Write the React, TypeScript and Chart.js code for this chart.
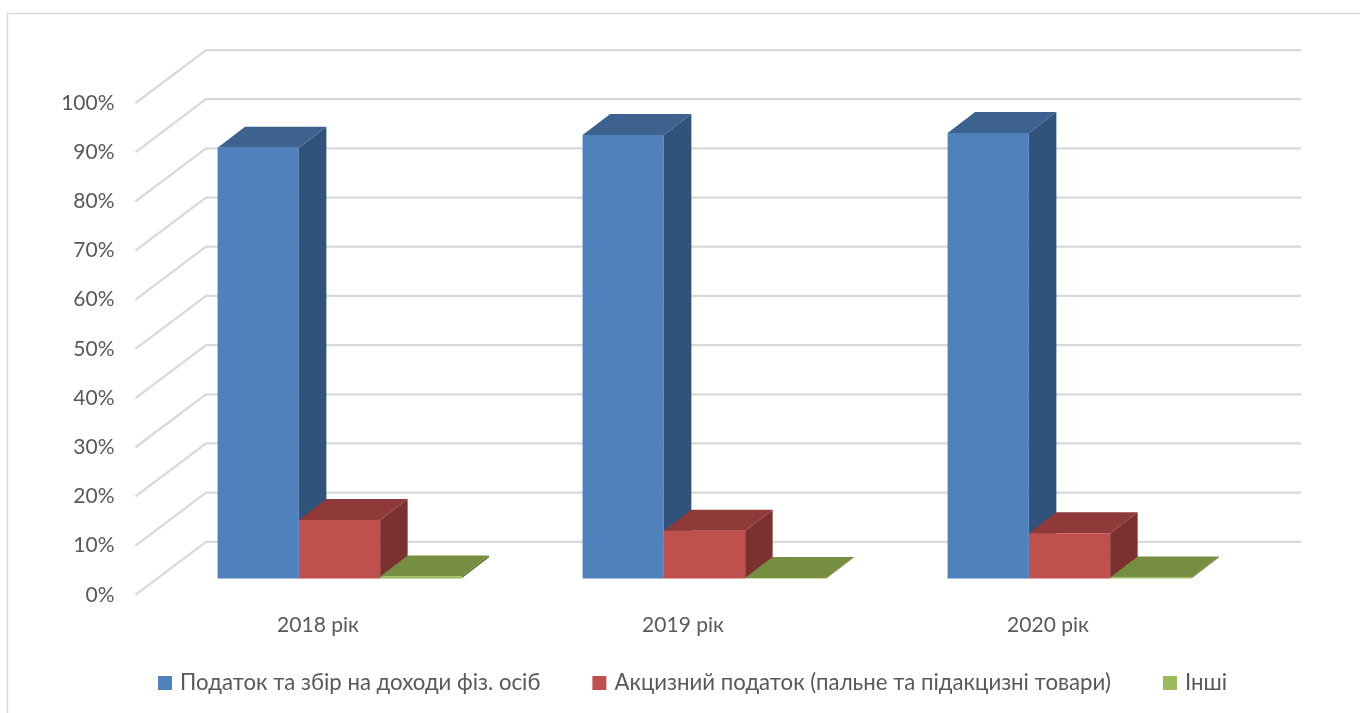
import React, { useEffect, useRef } from "react";
import { Chart, registerables } from "chart.js";

Chart.register(...registerables);

const categories = ["2018 рік", "2019 рік", "2020 рік"];
const incomeTax = [87.6, 90.2, 90.6];
const exciseTax = [11.9, 9.7, 9.2];
const otherTax = [0.4, 0.1, 0.2];
const seriesNames = [
  "Податок та збір на доходи фіз. осіб",
  "Акцизний податок (пальне та підакцизні товари)",
  "Інші",
];
const frontColors = ["#4f81bd", "#c0504d", "#9bbb59"];
const topColors = ["#3d628f", "#8f3a38", "#768e41"];
const sideColors = ["#31527a", "#7a312f", "#617534"];

const FONT = "Lato, Carlito, 'Noto Sans', sans-serif";
const TEXT = "#595959";
const GRID = "#d9d9d9";

// oblique depth of the chart's walls and bars
const WALL_DX = 70.5;
const WALL_DY = 53;
const BAR_SHIFT_X = 21.5;
const BAR_SHIFT_Y = 16.3;
const BAR_DX = 27.5;
const BAR_DY = 21;

const threeD = {
  id: "threeD",
  beforeDraw(chart: any) {
    const ctx = chart.ctx;
    ctx.save();
    ctx.fillStyle = "#ffffff";
    ctx.fillRect(0, 0, chart.width, chart.height);
    ctx.strokeStyle = GRID;
    ctx.lineWidth = 1.5;
    ctx.beginPath();
    ctx.moveTo(7.5, chart.height);
    ctx.lineTo(7.5, 13.5);
    ctx.lineTo(chart.width, 13.5);
    ctx.stroke();
    const y = chart.scales.y;
    const { left, right } = chart.chartArea;
    ctx.lineWidth = 2.25;
    y.ticks.forEach((t: any) => {
      const py = y.getPixelForValue(t.value);
      ctx.beginPath();
      ctx.moveTo(left, py);
      ctx.lineTo(left + WALL_DX, py - WALL_DY);
      ctx.lineTo(right + WALL_DX, py - WALL_DY);
      ctx.stroke();
    });
    ctx.restore();
  },
  beforeDatasetsDraw(chart: any) {
    const ctx = chart.ctx;
    ctx.save();
    ctx.translate(BAR_SHIFT_X, -BAR_SHIFT_Y);
    chart.data.datasets.forEach((_: any, di: number) => {
      chart.getDatasetMeta(di).data.forEach((bar: any) => {
        const { x, y, base, width } = bar.getProps(["x", "y", "base", "width"], true);
        const l = x - width / 2;
        const r = x + width / 2;
        ctx.fillStyle = sideColors[di];
        ctx.beginPath();
        ctx.moveTo(r, y);
        ctx.lineTo(r + BAR_DX, y - BAR_DY);
        ctx.lineTo(r + BAR_DX, base - BAR_DY);
        ctx.lineTo(r, base);
        ctx.closePath();
        ctx.fill();
        ctx.fillStyle = topColors[di];
        ctx.beginPath();
        ctx.moveTo(l, y);
        ctx.lineTo(l + BAR_DX, y - BAR_DY);
        ctx.lineTo(r + BAR_DX, y - BAR_DY);
        ctx.lineTo(r, y);
        ctx.closePath();
        ctx.fill();
      });
    });
  },
  afterDatasetsDraw(chart: any) {
    chart.ctx.restore();
  },
  afterLayout(chart: any) {
    const legend = chart.legend;
    legend.top = 617;
    legend.bottom = 695;
    legend.left = 106;
    legend.right = 1372;
  },
};

export default function App() {
  const ref = useRef<HTMLCanvasElement>(null);
  useEffect(() => {
    const seriesValues = [incomeTax, exciseTax, otherTax];
    const chart = new Chart(ref.current as HTMLCanvasElement, {
      type: "bar",
      data: {
        labels: categories,
        datasets: seriesValues.map((data, i) => ({
          label: seriesNames[i],
          data,
          backgroundColor: frontColors[i],
          borderWidth: 0,
          categoryPercentage: 0.668,
          barPercentage: 1,
          clip: false as any,
        })),
      },
      options: {
        responsive: false,
        animation: false,
        layout: { padding: { left: 0, right: 129.5, top: 103, bottom: -14 } },
        plugins: {
          tooltip: { enabled: false },
          legend: {
            position: "bottom",
            align: "start",
            labels: {
              boxWidth: 8,
              boxHeight: 8,
              padding: 55,
              color: TEXT,
              font: { family: FONT, size: 22.2 },
              generateLabels: (c: any) =>
                (Chart.defaults.plugins.legend.labels as any).generateLabels(c).map((l: any) => ({
                  ...l,
                  lineWidth: 6,
                  strokeStyle: l.fillStyle,
                })),
            },
          },
        },
        scales: {
          x: {
            grid: { display: false },
            border: { display: false },
            ticks: {
              color: TEXT,
              font: { family: FONT, size: 21 },
              padding: 10,
              autoSkip: false,
              maxRotation: 0,
            },
            afterFit: (s: any) => { s.height = 45; },
          },
          y: {
            min: 0,
            max: 100,
            grid: { display: false },
            border: { display: false },
            ticks: {
              stepSize: 10,
              color: TEXT,
              font: { family: FONT, size: 21 },
              padding: 13,
              callback: (v: any) => v + "%",
            },
            afterFit: (s: any) => { s.width = 135.5; },
          },
        },
      },
      plugins: [threeD],
    });
    return () => chart.destroy();
  }, []);
  return (
    <canvas
      ref={ref}
      width={1360}
      height={713}
      style={{ position: "fixed", left: 0, top: 0, display: "block" }}
    />
  );
}
